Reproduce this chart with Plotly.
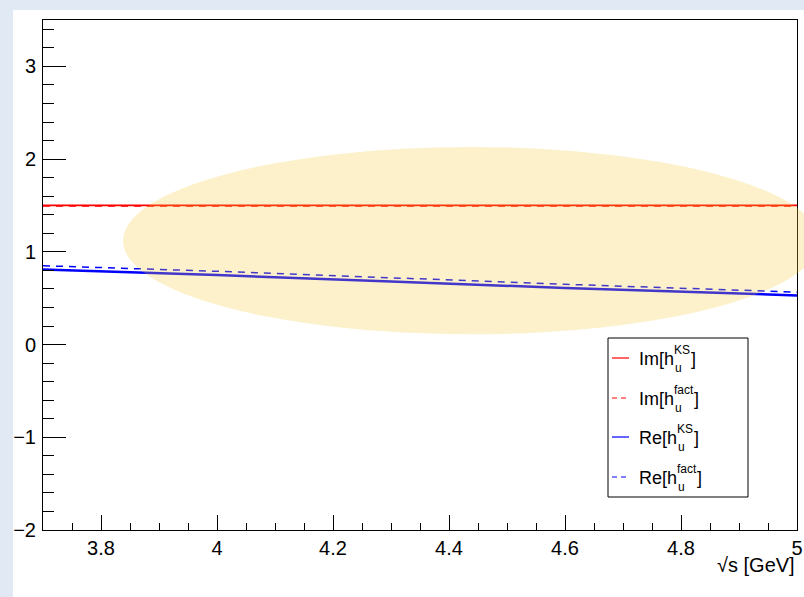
import plotly.graph_objects as go

# ---- data ----
sqrt_s = [3.7, 4.0, 4.3, 4.6, 5.0]
im_ks = [1.50, 1.50, 1.50, 1.50, 1.50]
im_fact = [1.493, 1.493, 1.493, 1.493, 1.493]
re_ks = [0.81, 0.75, 0.68, 0.61, 0.53]
re_fact = [0.85, 0.79, 0.72, 0.65, 0.565]

x_range = [3.7, 5.0]
y_range = [-2.0, 3.5]
x_ticks = [3.8, 4.0, 4.2, 4.4, 4.6, 4.8, 5.0]
x_ticktext = ["3.8", "4", "4.2", "4.4", "4.6", "4.8", "5"]
y_ticks = [-2, -1, 0, 1, 2, 3]

# ellipse (data coords)
ell_x = [3.838, 5.038]
ell_y = [0.11, 2.13]

# ---- layout geometry (pixels) ----
W, H = 804, 597
L, R, T, B = 43, 797, 20, 530
FONT = "Liberation Sans, Arial, Helvetica, sans-serif"
BG = "#e1e9f4"


def px(xp, yp):
    return (xp - L) / (R - L), (B - yp) / (B - T)


def d2p(xv, yv):
    return ((xv - x_range[0]) / (x_range[1] - x_range[0]),
            (yv - y_range[0]) / (y_range[1] - y_range[0]))


fig = go.Figure()
series = [
    ("Im[h_u^KS]", im_ks, "#ff0000", "solid", 1.8),
    ("Im[h_u^fact]", im_fact, "#ff0000", "7px,6px", 1.5),
    ("Re[h_u^KS]", re_ks, "#0000ff", "solid", 2.5),
    ("Re[h_u^fact]", re_fact, "#0000ff", "7px,6px", 1.5),
]
for name, ys, col, dash, w in series:
    fig.add_trace(go.Scatter(x=sqrt_s, y=ys, mode="lines", name=name,
                             line=dict(color=col, dash=dash, width=w),
                             showlegend=False, hoverinfo="skip"))

shapes = []
# white panel
x0, y1 = px(13, 10)
x1, y0 = px(W + 5, H + 5)
shapes.append(dict(type="rect", xref="paper", yref="paper", x0=x0, x1=x1,
                   y0=y0, y1=y1, fillcolor="white", line=dict(width=0),
                   layer="below"))
# ellipse (semi transparent, above the curves)
ex0, ey0 = d2p(ell_x[0], ell_y[0])
ex1, ey1 = d2p(ell_x[1], ell_y[1])
shapes.append(dict(type="circle", xref="paper", yref="paper", x0=ex0, x1=ex1,
                   y0=ey0, y1=ey1, fillcolor="rgba(245,205,60,0.27)",
                   line=dict(width=0), layer="above"))

# legend box
lx0, ly1 = px(608, 338)
lx1, ly0 = px(748, 497)
shapes.append(dict(type="rect", xref="paper", yref="paper", x0=lx0, x1=lx1,
                   y0=ly0, y1=ly1, fillcolor="white",
                   line=dict(color="black", width=1), layer="above"))

annotations = []
entry_y = [358, 398, 437, 477]
labels = [("Im[h", "KS"), ("Im[h", "fact"), ("Re[h", "KS"), ("Re[h", "fact")]
TX = 637
for (name, ys, col, dash, w), (main, sup), ey in zip(series, labels, entry_y):
    sx0, sy = px(612, ey)
    sx1, _ = px(629, ey)
    shapes.append(dict(type="line", xref="paper", yref="paper", x0=sx0, x1=sx1,
                       y0=sy, y1=sy,
                       line=dict(color=col, dash=dash if dash == "solid" else "5px,4px",
                                 width=1.2),
                       layer="above"))
    main_w = 35 if main.startswith("Im") else 38
    tx, ty = px(TX, ey + 1)
    annotations.append(dict(xref="paper", yref="paper", x=tx, y=ty, text=main,
                            showarrow=False, xanchor="left", yanchor="middle",
                            font=dict(family=FONT, size=18, color="black")))
    stx, sty = px(TX + main_w, ey - 8)
    annotations.append(dict(xref="paper", yref="paper", x=stx, y=sty, text=sup,
                            showarrow=False, xanchor="left", yanchor="middle",
                            font=dict(family=FONT, size=12, color="black")))
    ux, uy = px(TX + main_w + 1, ey + 10)
    annotations.append(dict(xref="paper", yref="paper", x=ux, y=uy, text="u",
                            showarrow=False, xanchor="left", yanchor="middle",
                            font=dict(family=FONT, size=12, color="black")))
    sup_w = 16 if sup == "KS" else 19
    bx, by = px(TX + main_w + sup_w + 1, ey + 1)
    annotations.append(dict(xref="paper", yref="paper", x=bx, y=by, text="]",
                            showarrow=False, xanchor="left", yanchor="middle",
                            font=dict(family=FONT, size=18, color="black")))

# x-axis title
atx, aty = px(797, 565)
annotations.append(dict(xref="paper", yref="paper", x=atx, y=aty,
                        text="√s [GeV]", showarrow=False, xanchor="right",
                        yanchor="middle",
                        font=dict(family=FONT, size=20, color="black")))

axis_common = dict(showgrid=False, zeroline=False, showline=True,
                   linecolor="black", linewidth=1, mirror=True,
                   automargin=False,
                   ticks="inside", tickcolor="black", tickwidth=1,
                   tickfont=dict(family=FONT, size=20, color="black"))

fig.update_layout(
    width=W, height=H,
    margin=dict(l=L, r=W - R, t=T, b=H - B, pad=0, autoexpand=False),
    paper_bgcolor=BG,
    plot_bgcolor="white",
    showlegend=False,
    hovermode=False,
    shapes=shapes,
    annotations=annotations,
    xaxis=dict(range=x_range, tickvals=x_ticks, ticktext=x_ticktext,
               ticklen=15,
               minor=dict(ticks="inside", dtick=0.05, tick0=3.7, ticklen=7,
                          tickcolor="black", tickwidth=1),
               **axis_common),
    yaxis=dict(range=y_range, tickvals=y_ticks, ticklen=23,
               ticklabelstandoff=2,
               minor=dict(ticks="inside", dtick=0.2, tick0=0, ticklen=11,
                          tickcolor="black", tickwidth=1),
               **axis_common),
)

fig.write_html(
    "out.html",
    config={"displayModeBar": False},
    post_script="document.body.style.margin='0';"
                "document.body.style.background='" + BG + "';",
)
